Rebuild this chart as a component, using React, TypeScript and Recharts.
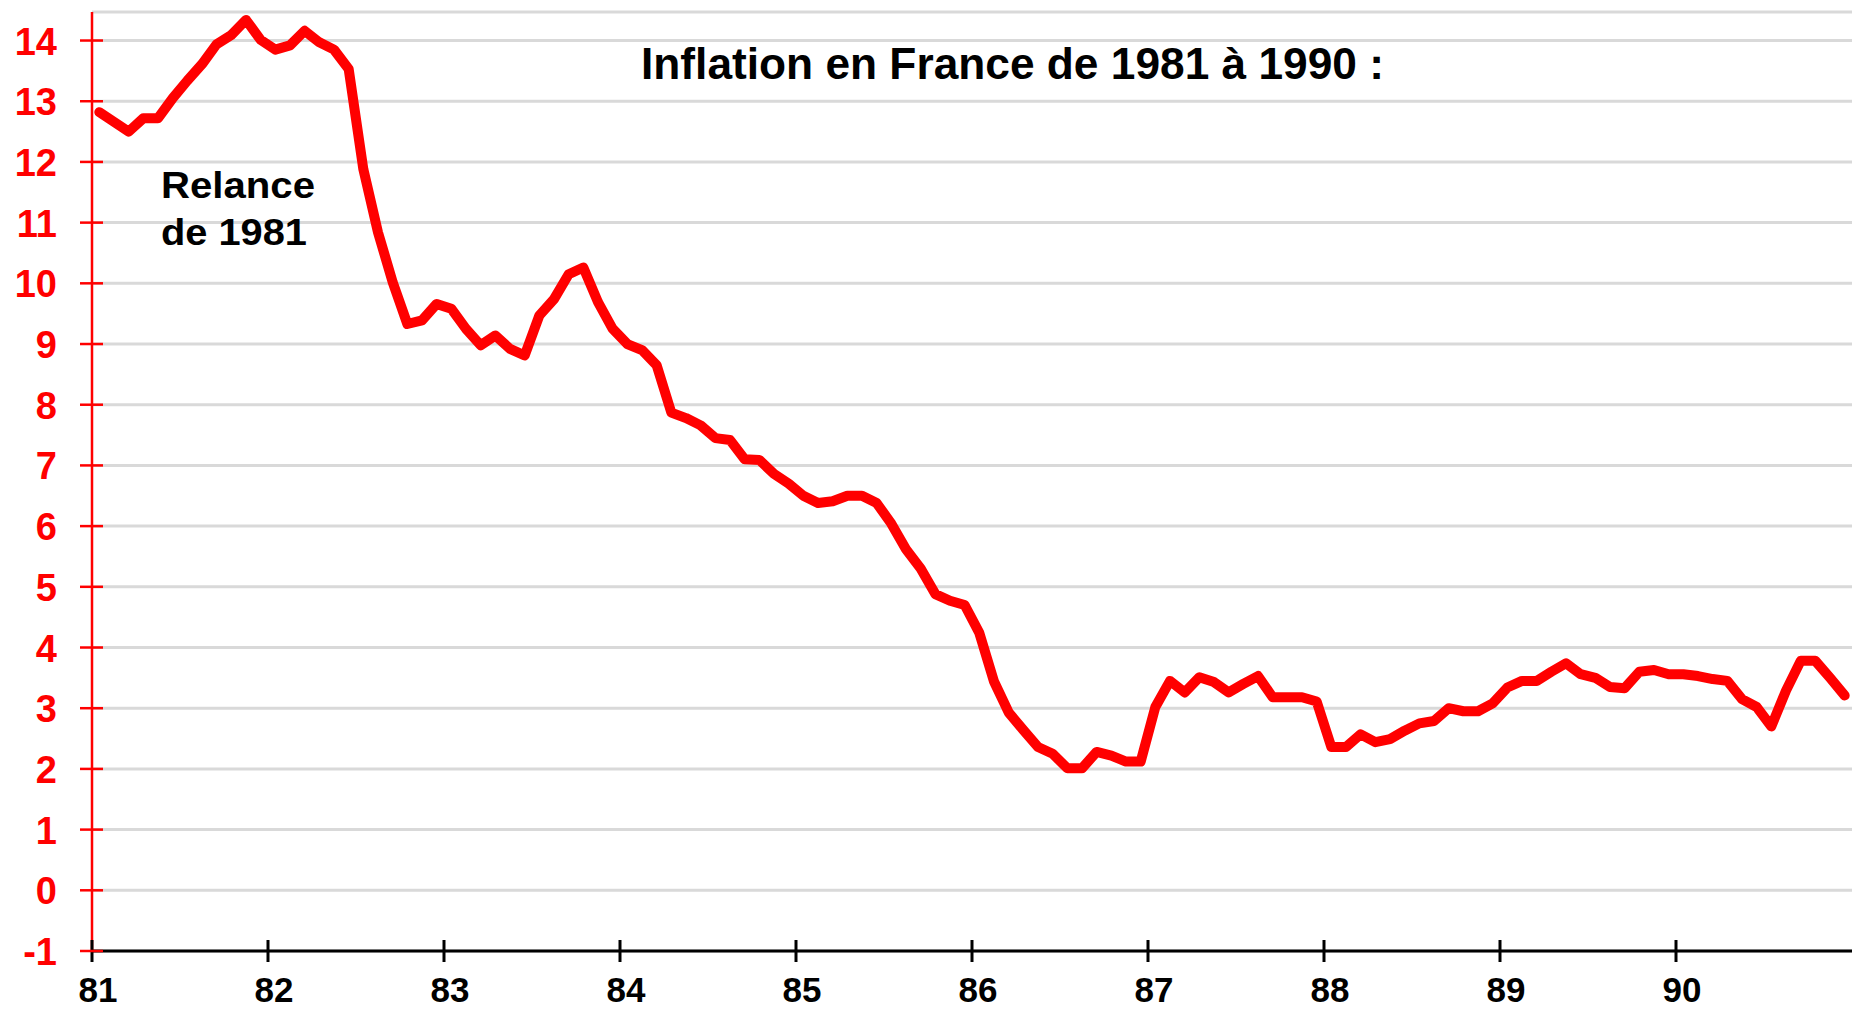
import React from "react";
import { LineChart, Line, XAxis, YAxis, CartesianGrid } from "recharts";

const startYear = 81;
const endYear = 91;
const xTicks = [81, 82, 83, 84, 85, 86, 87, 88, 89, 90];
const yTicks = [-1, 0, 1, 2, 3, 4, 5, 6, 7, 8, 9, 10, 11, 12, 13, 14];
const title = "Inflation en France de 1981 à 1990 :";
const noteLines = ["Relance", "de 1981"];

// Monthly inflation (%), Jan 1981 .. Dec 1990
const inflation = [
  12.82, 12.66, 12.5, 12.72, 12.72, 13.05, 13.34, 13.61, 13.94, 14.09, 14.34, 14.01,
  13.85, 13.92, 14.16, 13.97, 13.85, 13.53, 11.88, 10.84, 10.02, 9.33, 9.39, 9.66,
  9.58, 9.25, 8.98, 9.14, 8.92, 8.81, 9.47, 9.74, 10.15, 10.26, 9.69, 9.25,
  9.0, 8.9, 8.65, 7.87, 7.78, 7.66, 7.45, 7.42, 7.1, 7.09, 6.86, 6.7,
  6.5, 6.38, 6.41, 6.5, 6.5, 6.38, 6.04, 5.62, 5.3, 4.88, 4.77, 4.7,
  4.24, 3.44, 2.93, 2.64, 2.36, 2.25, 2.01, 2.01, 2.28, 2.22, 2.12, 2.12,
  3.02, 3.45, 3.26, 3.51, 3.43, 3.26, 3.4, 3.53, 3.18, 3.18, 3.18, 3.11,
  2.36, 2.36, 2.57, 2.44, 2.49, 2.63, 2.75, 2.79, 3.0, 2.95, 2.95, 3.08,
  3.34, 3.45, 3.45, 3.6, 3.74, 3.56, 3.5, 3.35, 3.33, 3.6, 3.63, 3.56,
  3.56, 3.53, 3.48, 3.45, 3.15, 3.02, 2.7, 3.29, 3.78, 3.78, 3.5, 3.21,
];

const data = inflation.map((v, i) => ({ x: startYear + (i + 0.5) / 12, v }));

const FONT = "'Liberation Sans', Arial, sans-serif";

const YTick = (props: any) => {
  const { x, y, payload } = props;
  return (
    <g>
      <line x1={x - 12} x2={x + 11} y1={y} y2={y} stroke="#ff0000" strokeWidth={2.5} />
      <text x={x - 35} y={y + 14} textAnchor="end" fill="#ff0000" fontFamily={FONT} fontWeight="bold" fontSize={38}>
        {payload.value}
      </text>
    </g>
  );
};

const XTick = (props: any) => {
  const { x, y, payload } = props;
  return (
    <g>
      <line x1={x} x2={x} y1={y - 11} y2={y + 11} stroke="#000" strokeWidth={3} />
      <text x={x + 6} y={y + 51} textAnchor="middle" fill="#000" fontFamily={FONT} fontWeight="bold" fontSize={35}>
        {payload.value}
      </text>
    </g>
  );
};

export default function App() {
  return (
    <div style={{ position: "absolute", left: 0, top: 0, width: 1852, height: 1010, background: "#fff" }}>
      <LineChart width={1852} height={1010} data={data} margin={{ top: 12, right: 0, bottom: 0, left: 0 }}>
        <CartesianGrid vertical={false} stroke="#d9d9d9" strokeWidth={3} />
        <XAxis
          dataKey="x"
          type="number"
          domain={[startYear, endYear]}
          ticks={xTicks}
          allowDataOverflow
          height={59}
          tickSize={0}
          tickMargin={0}
          tickLine={false}
          axisLine={{ stroke: "#000", strokeWidth: 3 }}
          tick={<XTick />}
          interval={0}
        />
        <YAxis
          type="number"
          domain={[-1, 14.47]}
          ticks={yTicks}
          allowDataOverflow
          width={92}
          tickSize={0}
          tickMargin={0}
          tickLine={false}
          axisLine={{ stroke: "#ff0000", strokeWidth: 2.5 }}
          tick={<YTick />}
          interval={0}
        />
        <Line
          dataKey="v"
          type="linear"
          stroke="#ff0000"
          strokeWidth={10}
          strokeLinejoin="round"
          strokeLinecap="round"
          dot={false}
          activeDot={false}
          isAnimationActive={false}
        />
      </LineChart>
      <svg width={1852} height={1010} style={{ position: "absolute", left: 0, top: 0, pointerEvents: "none" }}>
        <text x={641} y={79} fontFamily={FONT} fontWeight="bold" fontSize={44} fill="#000" textLength={743} lengthAdjust="spacingAndGlyphs">
          {title}
        </text>
        <text x={161} y={198} fontFamily={FONT} fontWeight="bold" fontSize={36} fill="#000" textLength={154} lengthAdjust="spacingAndGlyphs">
          {noteLines[0]}
        </text>
        <text x={161} y={245} fontFamily={FONT} fontWeight="bold" fontSize={36} fill="#000" textLength={146} lengthAdjust="spacingAndGlyphs">
          {noteLines[1]}
        </text>
      </svg>
    </div>
  );
}
